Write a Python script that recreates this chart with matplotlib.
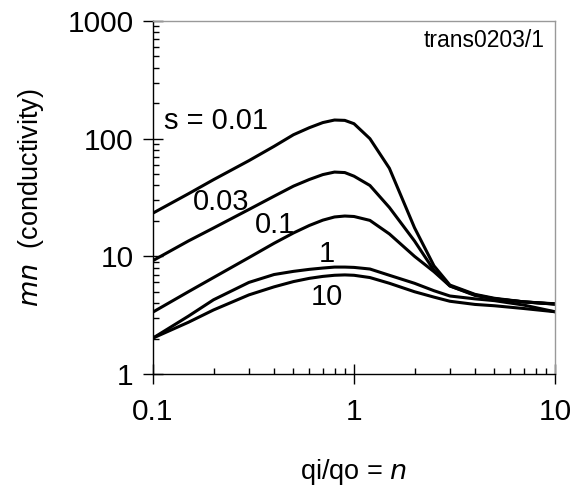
import matplotlib
matplotlib.use("Agg")
import matplotlib.pyplot as plt
from matplotlib.ticker import LogLocator, NullFormatter, FixedLocator, FixedFormatter

plt.rcParams['font.family'] = ['Liberation Sans', 'DejaVu Sans']

# qi/qo = n
n = [0.1, 0.15, 0.2, 0.3, 0.4, 0.5, 0.6, 0.7, 0.8, 0.9, 1.0, 1.2, 1.5, 2.0, 2.5, 3.0, 4.0, 5.0, 7.0, 10.0]

# conductivity for each s
s_001 = [23.3, 34, 44.8, 65, 86, 108, 124, 137, 144, 143, 134, 100, 56, 17.5, 8.3, 5.7, 4.75, 4.4, 4.1, 3.95]
s_003 = [9.2, 13.5, 17.4, 25, 32.4, 39.5, 45, 49.5, 52, 51.5, 48, 40, 26, 13.5, 7.6, 5.6, 4.7, 4.35, 4.1, 3.93]
s_01 = [3.36, 5.0, 6.6, 9.75, 12.9, 15.8, 18.3, 20.3, 21.6, 22, 21.8, 20.2, 15.5, 10, 7.4, 5.6, 4.65, 4.35, 4.1, 3.92]
s_1 = [2.02, 3.1, 4.27, 6.0, 7.0, 7.45, 7.75, 7.95, 8.1, 8.1, 8.05, 7.8, 6.9, 5.9, 5.1, 4.6, 4.35, 4.2, 3.85, 3.38]
s_10 = [2.02, 2.75, 3.5, 4.7, 5.5, 6.1, 6.5, 6.75, 6.9, 6.95, 6.9, 6.6, 5.9, 5.0, 4.5, 4.15, 3.9, 3.8, 3.6, 3.38]

curves = [s_001, s_003, s_01, s_1, s_10]
labels = ["s = 0.01", "0.03", "0.1", "1", "10"]
label_xy = [(0.1135, 141), (0.218, 28.9), (0.405, 18.5), (0.734, 10.5), (0.734, 4.51)]

fig = plt.figure(figsize=(5.78, 4.86), dpi=100)
ax = fig.add_axes([0.2647, 0.2305, 0.6955, 0.7263])

for ys in curves:
    ax.plot(n, ys, color='black', lw=2.2, solid_joinstyle='round')

for lab, (lx, ly) in zip(labels, label_xy):
    ax.text(lx, ly, lab, fontsize=21, ha='left' if lab.startswith('s') else 'center', va='center')

ax.text(0.975, 0.946, "trans0203/1", transform=ax.transAxes, ha='right', va='center', fontsize=16.5)

ax.set_xscale('log')
ax.set_yscale('log')
ax.set_xlim(0.1, 10)
ax.set_ylim(1, 1000)

ax.xaxis.set_major_locator(FixedLocator([0.1, 1, 10]))
ax.xaxis.set_major_formatter(FixedFormatter(["0.1", "1", "10"]))
ax.yaxis.set_major_locator(FixedLocator([1, 10, 100, 1000]))
ax.yaxis.set_major_formatter(FixedFormatter(["1", "10", "100", "1000"]))
ax.xaxis.set_minor_locator(LogLocator(base=10, subs=range(2, 10)))
ax.yaxis.set_minor_locator(LogLocator(base=10, subs=range(2, 10)))
ax.xaxis.set_minor_formatter(NullFormatter())
ax.yaxis.set_minor_formatter(NullFormatter())

ax.tick_params(axis='both', which='major', direction='inout', length=14, width=1.0, labelsize=21.5)
ax.tick_params(axis='both', which='minor', direction='in', length=4.5, width=1.0)
ax.tick_params(axis='x', which='major', pad=10)
ax.tick_params(axis='y', which='major', pad=7)

for side in ['left', 'bottom']:
    ax.spines[side].set_linewidth(1.0)
for side in ['top', 'right']:
    ax.spines[side].set_color('#999999')
    ax.spines[side].set_linewidth(1.0)

ax.set_xlabel("qi/qo = $\\it{n}$", fontsize=19.5)
ax.set_ylabel("$\\it{mn}$  (conductivity)", fontsize=19.5)
ax.xaxis.set_label_coords(0.5, -0.236)
ax.yaxis.set_label_coords(-0.265, 0.5)

fig.savefig("out.png", dpi=100)
